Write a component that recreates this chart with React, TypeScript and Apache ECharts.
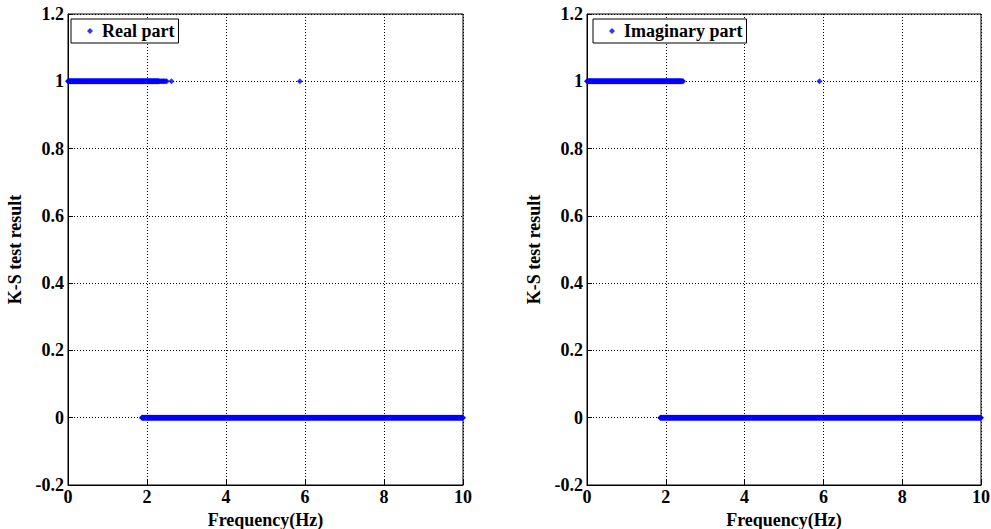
import React, { useEffect, useRef } from "react";
import * as echarts from "echarts";

// Frequency sampling resolution of the spectrum (Hz)
const freqStep = 0.01;

// Real part: K-S test result = 1 (dense band + sparse tail + isolated)
const realOneBand: [number, number] = [0, 2.3];
const realOneExtra = [2.32, 2.35, 2.37, 2.4, 2.42, 2.44, 2.47, 2.5, 2.62, 5.87];
// Real part: K-S test result = 0
const realZeroBand: [number, number] = [1.87, 10];

// Imaginary part
const imagOneBand: [number, number] = [0, 2.4];
const imagOneExtra = [2.42, 2.44, 5.9];
const imagZeroBand: [number, number] = [1.86, 10];

const xTicks = { min: 0, max: 10, interval: 2 };
const yTicks = { min: -0.2, max: 1.2, interval: 0.2 };

function band(b: [number, number], value: number): number[][] {
  const out: number[][] = [];
  const n = Math.round((b[1] - b[0]) / freqStep);
  for (let i = 0; i <= n; i++) out.push([+(b[0] + i * freqStep).toFixed(3), value]);
  return out;
}

const realData = [
  ...band(realOneBand, 1),
  ...realOneExtra.map((f) => [f, 1]),
  ...band(realZeroBand, 0),
];
const imagData = [
  ...band(imagOneBand, 1),
  ...imagOneExtra.map((f) => [f, 1]),
  ...band(imagZeroBand, 0),
];

const FONT = "'Liberation Serif', 'Times New Roman', serif";
const FS = 18;

const txt = { fontFamily: FONT, fontWeight: "bold", fontSize: FS, color: "#000" };

function xAxis(gridIndex: number) {
  return {
    type: "value",
    gridIndex,
    ...xTicks,
    name: "Frequency(Hz)",
    nameLocation: "middle",
    nameGap: 24,
    nameTextStyle: { ...txt },
    axisLine: { show: true, onZero: false, lineStyle: { color: "#000", width: 1 } },
    axisTick: { show: true, inside: true, length: 5, lineStyle: { color: "#000" } },
    axisLabel: { margin: 3, ...txt },
    splitLine: { show: true, lineStyle: { color: "#000", type: [1, 2], width: 1 } },
  };
}

function yAxis(gridIndex: number) {
  return {
    type: "value",
    gridIndex,
    ...yTicks,
    name: "K-S test result",
    nameLocation: "middle",
    nameGap: 44,
    nameRotate: 90,
    nameTextStyle: { ...txt },
    axisLine: { show: true, onZero: false, lineStyle: { color: "#000", width: 1 } },
    axisTick: { show: true, inside: true, length: 5, lineStyle: { color: "#000" } },
    axisLabel: {
      margin: 4,
      ...txt,
      formatter: (v: number) => String(Number(v.toFixed(1))),
    },
    splitLine: { show: true, lineStyle: { color: "#000", type: [1, 2], width: 1 } },
  };
}

function legend(name: string, left: number) {
  return {
    data: [name],
    left,
    top: 19,
    orient: "vertical",
    padding: [3, 4, 3, 16],
    itemWidth: 6,
    itemHeight: 6,
    itemGap: 0,
    backgroundColor: "#fff",
    borderColor: "#000",
    borderWidth: 1,
    borderRadius: 0,
    textStyle: { ...txt, padding: [0, 0, 0, 4] },
  };
}

function series(name: string, idx: number, data: number[][]) {
  return {
    type: "scatter",
    name,
    xAxisIndex: idx,
    yAxisIndex: idx,
    data,
    symbol: "diamond",
    symbolSize: 6,
    itemStyle: { color: "#0000ff" },
    large: false,
  };
}

export default function App() {
  const ref = useRef<HTMLDivElement>(null);
  useEffect(() => {
    if (!ref.current) return;
    const chart = echarts.init(ref.current, null, { renderer: "svg" });
    chart.setOption({
      animation: false,
      backgroundColor: "#fff",
      grid: [
        { left: 68, top: 14, width: 395, height: 471, outerBoundsMode: "none", containLabel: false, show: true, borderColor: "#000", borderWidth: 1, backgroundColor: "transparent" },
        { left: 587, top: 14, width: 394, height: 471, outerBoundsMode: "none", containLabel: false, show: true, borderColor: "#000", borderWidth: 1, backgroundColor: "transparent" },
      ],
      xAxis: [xAxis(0), xAxis(1)],
      yAxis: [yAxis(0), yAxis(1)],
      legend: [legend("Real part", 71), legend("Imaginary part", 593)],
      series: [series("Real part", 0, realData), series("Imaginary part", 1, imagData)],
    });
    return () => chart.dispose();
  }, []);
  return (
    <div
      ref={ref}
      style={{ position: "fixed", left: 0, top: 0, width: 991, height: 529, background: "#fff" }}
    />
  );
}
